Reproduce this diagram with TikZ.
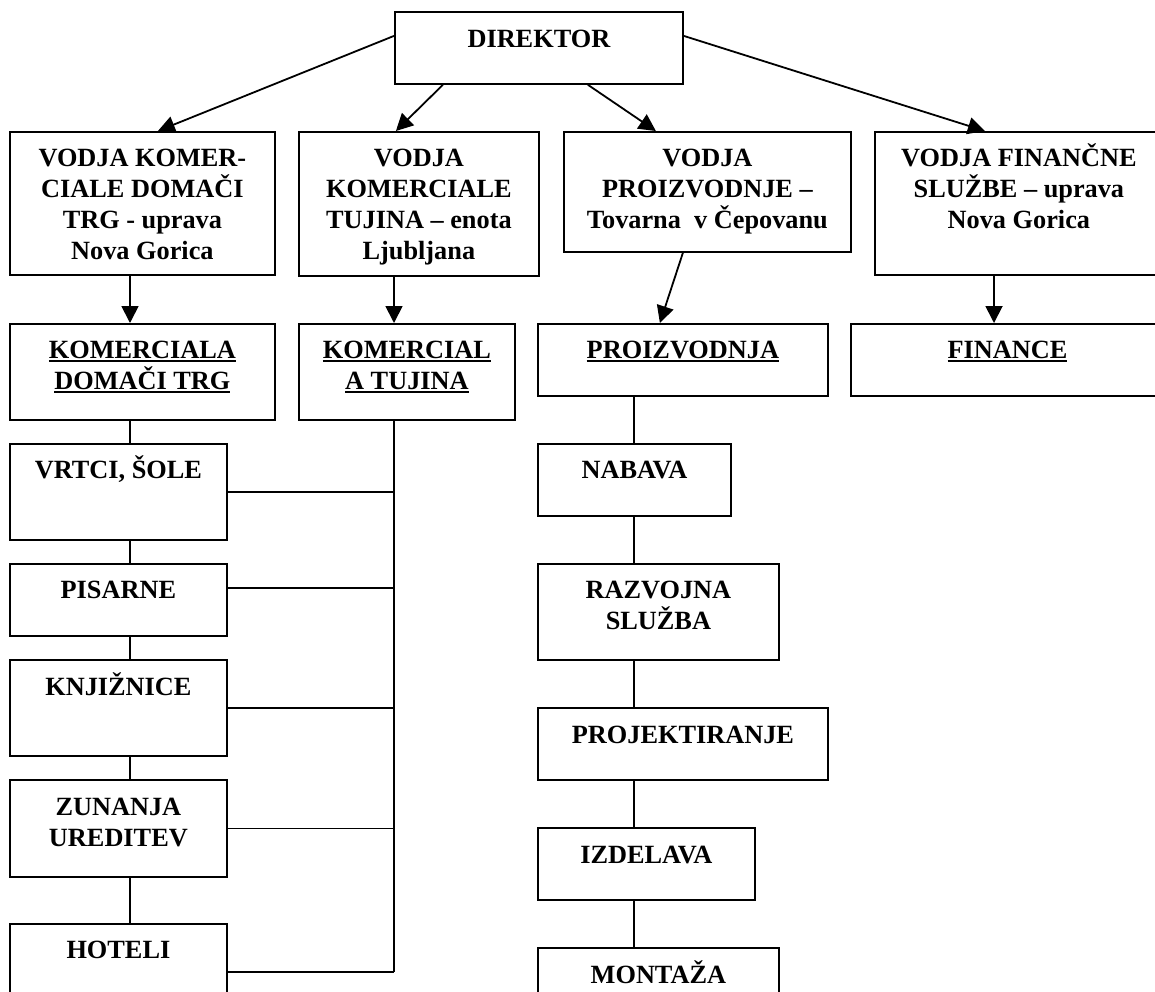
\documentclass[tikz,border=0pt]{standalone}
\usepackage{fontspec}
\setmainfont{Liberation Serif}
\usetikzlibrary{arrows.meta,calc}
\newcommand\ulx[1]{\setbox0\hbox{#1}\rlap{\rule[-4pt]{\wd0}{2.2pt}}\box0}
\newcommand\tstrut{\rule{0pt}{24pt}}
\begin{document}
\begin{tikzpicture}[x=1pt,y=-1pt,
  box/.style={draw, line width=1.8pt, inner sep=0pt, anchor=north west},
  txt/.style={font=\fontsize{26.3}{31}\selectfont\bfseries, align=center, inner sep=0pt, anchor=north},
  arr/.style={line width=1.8pt, -{Triangle[length=17pt,width=17pt]}},
  con/.style={line width=1.8pt}]
\fill[white] (0,0) rectangle (1155,991);
\useasboundingbox (0,0) rectangle (1155,991);
\coordinate (colA) at (130,0);
\coordinate (colB) at (394,0);
\coordinate (colC) at (634,0);
\coordinate (colD) at (994,0);
% boxes
\node[box, minimum width=288pt, minimum height=72pt]  (dir) at (394,11) {};
\node[box, minimum width=265pt, minimum height=143pt] (b1) at (9,131) {};
\node[box, minimum width=240pt, minimum height=144pt] (b2) at (298,131) {};
\node[box, minimum width=287pt, minimum height=120pt] (b3) at (563,131) {};
\node[box, minimum width=288pt, minimum height=143pt] (b4) at (874,131) {};
\node[box, minimum width=265pt, minimum height=96pt]  (k1) at (9,323) {};
\node[box, minimum width=216pt, minimum height=96pt]  (k2) at (298,323) {};
\node[box, minimum width=290pt, minimum height=72pt]  (pr) at (537,323) {};
\node[box, minimum width=313pt, minimum height=72pt]  (fi) at (850,323) {};
\node[box, minimum width=217pt, minimum height=96pt]  (vr) at (9,443) {};
\node[box, minimum width=217pt, minimum height=72pt]  (pi) at (9,563) {};
\node[box, minimum width=217pt, minimum height=96pt]  (kn) at (9,659) {};
\node[box, minimum width=217pt, minimum height=97pt]  (zu) at (9,779) {};
\node[box, minimum width=217pt, minimum height=96pt]  (ho) at (9,923) {};
\node[box, minimum width=193pt, minimum height=72pt]  (na) at (537,443) {};
\node[box, minimum width=241pt, minimum height=96pt]  (ra) at (537,563) {};
\node[box, minimum width=290pt, minimum height=72pt]  (pj) at (537,707) {};
\node[box, minimum width=217pt, minimum height=72pt]  (iz) at (537,827) {};
\node[box, minimum width=241pt, minimum height=72pt]  (mo) at (537,947) {};
% texts
\node[txt] (dir-t) at ($(dir.north)+(0,12)$) {\tstrut DIREKTOR};
\node[txt] (b1-t) at ($(b1.north)+(0,11)$) {\tstrut VODJA KOMER-\\CIALE DOMAČI\\TRG - uprava\\Nova Gorica};
\node[txt] (b2-t) at ($(b2.north)+(0,11)$) {\tstrut VODJA\\KOMERCIALE\\TUJINA – enota\\Ljubljana};
\node[txt] (b3-t) at ($(b3.north)+(0,11)$) {\tstrut VODJA\\PROIZVODNJE –\\Tovarna~ v Čepovanu};
\node[txt] (b4-t) at ($(b4.north)+(0,11)$) {\tstrut VODJA FINANČNE\\SLUŽBE – uprava\\Nova Gorica};
\node[txt] (k1-t) at ($(k1.north)+(0,11)$) {\tstrut\ulx{KOMERCIALA}\\\ulx{DOMAČI TRG}};
\node[txt] (k2-t) at ($(k2.north)+(0,11)$) {\tstrut\ulx{KOMERCIAL}\\\ulx{A TUJINA}};
\node[txt] (pr-t) at ($(pr.north)+(0,11)$) {\tstrut\ulx{PROIZVODNJA}};
\node[txt] (fi-t) at ($(fi.north)+(0,11)$) {\tstrut\ulx{FINANCE}};
\node[txt] (vr-t) at ($(vr.north)+(0,11)$) {\tstrut VRTCI, ŠOLE};
\node[txt] (pi-t) at ($(pi.north)+(0,11)$) {\tstrut PISARNE};
\node[txt] (kn-t) at ($(kn.north)+(0,12)$) {\tstrut KNJIŽNICE};
\node[txt] (zu-t) at ($(zu.north)+(0,12)$) {\tstrut ZUNANJA\\UREDITEV};
\node[txt] (ho-t) at ($(ho.north)+(0,11)$) {\tstrut HOTELI};
\node[txt] (na-t) at ($(na.north)+(0,11)$) {\tstrut NABAVA};
\node[txt] (ra-t) at ($(ra.north)+(0,11)$) {\tstrut RAZVOJNA\\SLUŽBA};
\node[txt] (pj-t) at ($(pj.north)+(0,12)$) {\tstrut PROJEKTIRANJE};
\node[txt] (iz-t) at ($(iz.north)+(0,12)$) {\tstrut IZDELAVA};
\node[txt] (mo-t) at ($(mo.north)+(0,12)$) {\tstrut MONTAŽA};
% arrows from director
\draw[arr] ([yshift=12pt]dir.west) -- ([xshift=15.5pt]b1.north);
\draw[arr] ([xshift=-96pt]dir.south) -- ([xshift=-23pt]b2.north);
\draw[arr] ([xshift=49pt]dir.south) -- ([xshift=-51.5pt]b3.north);
\draw[arr] ([yshift=12pt]dir.east) -- ([xshift=-34pt]b4.north);
% arrows to second row
\draw[arr] (b1.south -| colA) -- (k1.north -| colA);
\draw[arr] (b2.south -| colB) -- (k2.north -| colB);
\draw[arr] ([xshift=-24.5pt]b3.south) -- ([xshift=-23pt]pr.north);
\draw[arr] (b4.south -| colD) -- (fi.north -| colD);
% left column
\draw[con] (k1.south -| colA) -- (vr.north -| colA);
\draw[con] (vr.south -| colA) -- (pi.north -| colA);
\draw[con] (pi.south -| colA) -- (kn.north -| colA);
\draw[con] (kn.south -| colA) -- (zu.north -| colA);
\draw[con] (zu.south -| colA) -- (ho.north -| colA);
% tujina bus
\draw[con] (k2.south -| colB) -- (colB |- ho.east);
\draw[con] (vr.east) -- (vr.east -| colB);
\draw[con] ([yshift=12pt]pi.east) -- ([yshift=12pt]pi.east -| colB);
\draw[con] (kn.east) -- (kn.east -| colB);
\draw[con] (zu.east) -- (zu.east -| colB);
\draw[con] (ho.east) -- (ho.east -| colB);
% production column
\draw[con] (pr.south -| colC) -- (na.north -| colC);
\draw[con] (na.south -| colC) -- (ra.north -| colC);
\draw[con] (ra.south -| colC) -- (pj.north -| colC);
\draw[con] (pj.south -| colC) -- (iz.north -| colC);
\draw[con] (iz.south -| colC) -- (mo.north -| colC);
\end{tikzpicture}
\end{document}
